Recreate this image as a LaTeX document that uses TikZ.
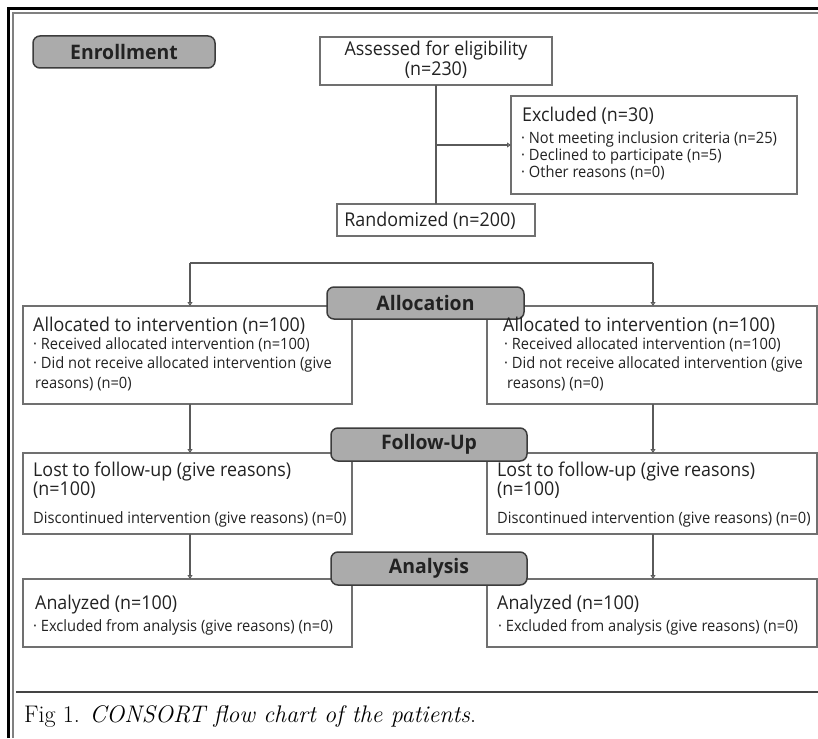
\documentclass[tikz,border=0pt]{standalone}
\usepackage{fontspec}
\newfontfamily\cf[FakeStretch=0.94]{Open Sans}
\newfontfamily\cfb[FakeStretch=0.97]{Open Sans Bold}
\usetikzlibrary{arrows.meta}
\newcommand{\mystack}[1]{\vtop{\lineskiplimit=-100pt\lineskip=0pt\relax #1}}
\definecolor{boxln}{HTML}{707070}
\definecolor{phaseln}{HTML}{3C3C3C}
\definecolor{phasefill}{HTML}{ABABAB}
\definecolor{txtc}{HTML}{222222}
\definecolor{connln}{HTML}{5A5A5A}
\definecolor{capln}{HTML}{444444}
\tikzset{
  box/.style={draw=boxln, line width=1.3pt, fill=white, inner sep=0pt, outer sep=0pt, anchor=north west},
  phase/.style={draw=phaseln, line width=1.5pt, fill=phasefill, rounded corners=7pt, inner sep=0pt, outer sep=0pt, anchor=north west, font=\cfb\fontsize{20}{20}\selectfont, text=txtc},
  big/.style={inner sep=0pt, anchor=base west, font=\cf\fontsize{19}{19.5}\selectfont, text=txtc},
  bigc/.style={big, anchor=base},
  small/.style={inner sep=0pt, anchor=base west, font=\cf\fontsize{15.6}{19.5}\selectfont, text=txtc},
  conn/.style={draw=connln, line width=1.2pt},
  arr/.style={conn, -{Triangle[open, length=4pt, width=5pt]}},
}
\begin{document}
\begin{tikzpicture}[x=1pt,y=-1pt]
\useasboundingbox (0,0) rectangle (818,738);
% frame
\draw[line width=3pt, black] (8.5,738) -- (8.5,8.5) -- (818,8.5);
\draw[line width=1.2pt, gray] (13,738) -- (13,13) -- (818,13);
% boxes
\node[box, minimum width=232pt, minimum height=48pt] (ass) at (320,37) {};
\node[box, minimum width=286pt, minimum height=98pt] (exc) at (511,96) {};
\node[box, minimum width=198pt, minimum height=32pt] (ran) at (337,204) {};
\node[box, minimum width=329pt, minimum height=98pt] (alL) at (23,306) {};
\node[box, minimum width=330pt, minimum height=98pt] (alR) at (487,306) {};
\node[box, minimum width=329pt, minimum height=81pt] (fuL) at (23,453) {};
\node[box, minimum width=330pt, minimum height=81pt] (fuR) at (487,453) {};
\node[box, minimum width=329pt, minimum height=68pt] (anL) at (23,579) {};
\node[box, minimum width=330pt, minimum height=68pt] (anR) at (487,579) {};
% connectors
\coordinate (splitL) at (190,263);
\coordinate (splitR) at (653,263);
\draw[conn] (ass.south) -- (ran.north);
\draw[arr] (ass.south |- exc.west) -- (exc.west);
\draw[conn] (splitL) -- (splitR);
\draw[arr] (splitL) -- (splitL |- alL.north);
\draw[arr] (splitR) -- (splitR |- alR.north);
\draw[arr] (splitL |- alL.south) -- (splitL |- fuL.north);
\draw[arr] (splitR |- alR.south) -- (splitR |- fuR.north);
\draw[arr] (splitL |- fuL.south) -- (splitL |- anL.north);
\draw[arr] (splitR |- fuR.south) -- (splitR |- anR.north);
% phase labels
\node[phase, minimum width=182pt, minimum height=32pt] (enr) at (33,36) {Enrollment};
\node[phase, minimum width=197pt, minimum height=32pt] (alc) at (327,287) {Allocation};
\node[phase, minimum width=196pt, minimum height=33pt] (fol) at (331,428) {Follow-Up};
\node[phase, minimum width=196pt, minimum height=33pt] (ana) at (331,552) {Analysis};
% texts
\node[bigc] (t1) at (436,56) {Assessed for eligibility};
\node[bigc] (t2) at (436,76) {(n=230)};
\node[big] (t3) at (522,122) {Excluded (n=30)};
\node[small, font=\cf\fontsize{15.6}{17}\selectfont] (t4) at (521,144) {\mystack{\hbox{· Not meeting inclusion criteria (n=25)}\hbox{· Declined to participate (n=5)}\hbox{· Other reasons (n=0)}}};
\node[bigc] (t7) at (430,226) {Randomized (n=200)};
\node[big] (t8) at (33,331) {Allocated to intervention (n=100)};
\node[small] (t9) at (33,349) {\mystack{\hbox{· Received allocated intervention (n=100)}\hbox{· Did not receive allocated intervention (give}\hbox{\hspace*{2pt}reasons) (n=0)}}};
\node[big] (t12) at (503,331) {Allocated to intervention (n=100)};
\node[small] (t13) at (504,349) {\mystack{\hbox{· Received allocated intervention (n=100)}\hbox{· Did not receive allocated intervention (give}\hbox{\hspace*{3pt}reasons) (n=0)}}};
\node[big] (t16) at (33,476) {\mystack{\hbox{Lost to follow-up (give reasons)}\hbox{(n=100)}}};
\node[small] (t18) at (33,523) {Discontinued intervention (give reasons) (n=0)};
\node[big] (t19) at (497,476) {\mystack{\hbox{Lost to follow-up (give reasons)}\hbox{(n=100)}}};
\node[small] (t21) at (497,523) {Discontinued intervention (give reasons) (n=0)};
\node[big] (t22) at (35,609) {Analyzed (n=100)};
\node[small] (t23) at (33,631) {· Excluded from analysis (give reasons) (n=0)};
\node[big] (t24) at (497,609) {Analyzed (n=100)};
\node[small] (t25) at (498,631) {· Excluded from analysis (give reasons) (n=0)};
% caption
\draw[line width=1.5pt, capln] (16,692) -- (818,692);
\node[anchor=base west, inner sep=0pt, font=\fontsize{24}{24}\selectfont] (cap) at (24,722) {Fig 1. \textit{CONSORT flow chart of the patients}.};
\end{tikzpicture}
\end{document}
